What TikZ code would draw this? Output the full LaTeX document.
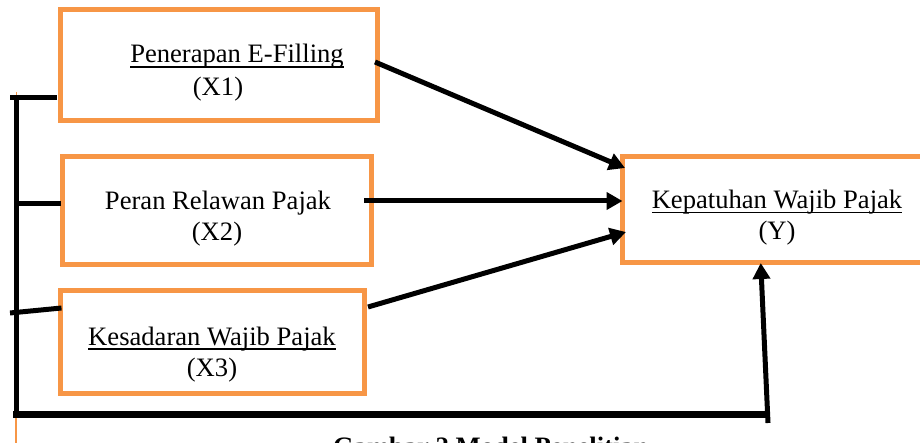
\documentclass[tikz,border=0pt]{standalone}
\usepackage{fontspec}
\setmainfont{Liberation Serif}
\usetikzlibrary{calc,arrows.meta}
\definecolor{boxorange}{HTML}{F79646}
\tikzset{
  varbox/.style={draw=boxorange, line width=5pt, rectangle, inner sep=0pt, outer sep=0pt},
  txt/.style={anchor=base, inner sep=0pt, outer sep=0pt, font=\fontsize{26.6}{32}\selectfont},
  conn/.style={line width=5pt},
  arr/.style={line width=5pt, -{Triangle[length=16pt,width=17pt]}},
  uline/.style={line width=1.4pt}
}
\begin{document}
\begin{tikzpicture}[x=1pt,y=-1pt]
\useasboundingbox (0,0) rectangle (920,443);
\clip (0,0) rectangle (920,443);
% boxes
\node[varbox, minimum width=316.5pt, minimum height=111pt] (X1) at (218.75,65) {};
\node[varbox, minimum width=309pt, minimum height=108pt] (X2) at (217,210.5) {};
\node[varbox, minimum width=304pt, minimum height=103pt] (X3) at (212.5,342) {};
\node[varbox, minimum width=317.5pt, minimum height=106.5pt] (Y) at (781.25,209.75) {};
% texts
\node[txt] (t1a) at (237,63) {Penerapan E-Filling};
\node[txt] (t1b) at (218,95.5) {(X1)};
\node[txt] (t2a) at (218,210) {Peran Relawan Pajak};
\node[txt] (t2b) at (217,241) {(X2)};
\node[txt] (t3a) at (212,345) {Kesadaran Wajib Pajak};
\node[txt] (t3b) at (212,376) {(X3)};
\node[txt] (tya) at (777,208.5) {Kepatuhan Wajib Pajak};
\node[txt] (tyb) at (777,240) {(Y)};
\node[txt, anchor=base west, font=\fontsize{26.6}{32}\selectfont\bfseries] (cap) at (333,455) {Gambar 2 Model Penelitian};
% underlines
\draw[uline] ([yshift=-4pt]t1a.base west) -- ([yshift=-4pt]t1a.base east);
\draw[uline] ([yshift=-4pt]t3a.base west) -- ([yshift=-4pt]t3a.base east);
\draw[uline] ([yshift=-4pt]tya.base west) -- ([yshift=-4pt]tya.base east);
% coordinates of the left bracket
\coordinate (c1) at (10,97.5);
\coordinate (vtop) at (16,95);
\coordinate (vbot) at (16,417);
\coordinate (c2) at (16,204);
\coordinate (c3) at (10,313);
\coordinate (bl) at (13,414.5);
\coordinate (br) at (770,414.5);
\coordinate (b4) at (768,423);
\coordinate (o1) at (16,418);
\coordinate (o2) at (16,443);
\coordinate (o3) at (16,92);
% bracket lines
\draw[conn] (c1) -- ($(X1.west)+(-3.5,32.5)$);
\draw[conn] (vtop) -- (vbot);
\draw[conn] (c2) -- ($(X2.west)+(-2,-6.5)$);
\draw[conn] (c3) -- ($(X3.west)+(1,-34)$);
\draw[line width=6.5pt] (bl) -- (br);
\draw[boxorange, line width=1.5pt] (o1) -- (o2);
\draw[boxorange, line width=1pt] (o3) -- (vtop);
% arrows
\draw[arr] ($(X1.east)+(-2,-3)$) -- ($(Y.north west)+(2.5,11.5)$);
\draw[arr] ($(X2.east)+(-7.5,-9.5)$) -- ($(Y.west)+(0,-8.75)$);
\draw[arr] ($(X3.east)+(3.5,-35)$) -- ($(Y.west)+(3.5,22.25)$);
\draw[arr] (b4) -- ($(Y.south)+(-20.5,0)$);
\end{tikzpicture}
\end{document}
